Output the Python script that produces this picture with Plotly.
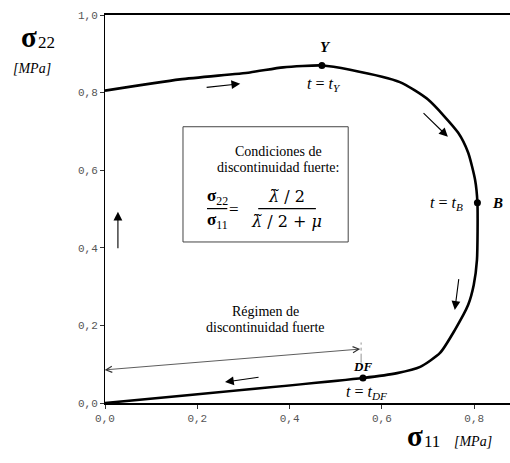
import plotly.graph_objects as go

# Stress path in the (sigma11, sigma22) plane, MPa
s11 = [0.0, 0.1625, 0.314, 0.386, 0.470, 0.531, 0.639, 0.700, 0.765, 0.787,
       0.802, 0.807, 0.806, 0.799, 0.787, 0.758, 0.726, 0.683, 0.633, 0.559, 0.0]
s22 = [0.805, 0.834, 0.852, 0.865, 0.870, 0.859, 0.827, 0.782, 0.697, 0.645,
       0.575, 0.516, 0.369, 0.304, 0.253, 0.188, 0.129, 0.093, 0.077, 0.0645, 0.0]

# Characteristic states: yield (Y), bifurcation (B), strong discontinuity (DF)
pt_names = ["Y", "B", "DF"]
pt_s11 = [0.470, 0.807, 0.559]
pt_s22 = [0.870, 0.516, 0.0645]

tick_vals = [0.0, 0.2, 0.4, 0.6, 0.8, 1.0]
tick_text = ["0,0", "0,2", "0,4", "0,6", "0,8", "1,0"]

SERIF = "Liberation Serif"
MONO = "Liberation Mono"

fig = go.Figure()
fig.add_trace(go.Scatter(x=s11, y=s22, mode="lines",
                         line=dict(color="black", width=2.6, shape="spline", smoothing=0.6),
                         hoverinfo="skip", showlegend=False))
fig.add_trace(go.Scatter(x=pt_s11, y=pt_s22, mode="markers",
                         marker=dict(color="black", size=7),
                         text=pt_names, hoverinfo="text", showlegend=False))

ann = []


def txt(x, y, s, size=14, ref="x", family=SERIF, xanchor="center", yanchor="middle"):
    ann.append(dict(x=x, y=y, xref="x" if ref == "x" else "paper",
                    yref="y" if ref == "x" else "paper",
                    xanchor=xanchor, yanchor=yanchor,
                    text=s, showarrow=False, font=dict(family=family, size=size, color="black")))


# axis titles (outside the plotting area, paper coordinates)
txt(-0.187, 0.943, "<b>σ</b>", size=29, ref="paper")
txt(-0.171, 0.930, "22", size=17, ref="paper", xanchor="left")
txt(-0.180, 0.863, "<i>[MPa]</i>", size=14, ref="paper")
txt(0.765, -0.084, "<b>σ</b>", size=29, ref="paper")
txt(0.782, -0.099, "11", size=17, ref="paper", xanchor="left")
txt(0.857, -0.099, "<i>[MPa]</i>", size=14, ref="paper", xanchor="left")

# point labels
txt(0.477, 0.918, "<b><i>Y</i></b>", size=15)
txt(0.474, 0.820, "<i>t</i> = <i>t</i><sub><i>Y</i></sub>", size=16)
txt(0.850, 0.516, "<b><i>B</i></b>", size=15)
txt(0.740, 0.514, "<i>t</i> = <i>t</i><sub><i>B</i></sub>", size=16)
txt(0.559, 0.094, "<b><i>DF</i></b>", size=13)
txt(0.566, 0.026, "<i>t</i> = <i>t</i><sub><i>DF</i></sub>", size=16)

# box with the strong discontinuity condition
txt(0.375, 0.648, "Condiciones de", size=14)
txt(0.375, 0.606, "discontinuidad fuerte:", size=14)
txt(0.243, 0.531, "<b>σ</b><sub>22</sub>", size=17)
txt(0.243, 0.469, "<b>σ</b><sub>11</sub>", size=17)
txt(0.280, 0.500, "=", size=17)
txt(0.394, 0.533, "<i>λ̃</i> / 2", size=16, family="DejaVu Serif")
txt(0.394, 0.469, "<i>λ̃</i> / 2 + <i>μ</i>", size=16, family="DejaVu Serif")

# strong discontinuity regime
txt(0.347, 0.237, "Régimen de", size=14)
txt(0.347, 0.194, "discontinuidad fuerte", size=14)


def arrow(x0, y0, x1, y1):
    ann.append(dict(x=x1, y=y1, ax=x0, ay=y0, xref="x", yref="y", axref="x", ayref="y",
                    text="", showarrow=True, arrowhead=2, arrowsize=1.6, arrowwidth=1.1,
                    arrowcolor="black"))


# direction of loading along the path
arrow(0.217, 0.813, 0.293, 0.823)
arrow(0.687, 0.751, 0.743, 0.686)
arrow(0.767, 0.323, 0.758, 0.240)
arrow(0.336, 0.067, 0.260, 0.054)
arrow(0.028, 0.395, 0.028, 0.493)

# double-headed arrow spanning the regime
ann.append(dict(x=0.553, y=0.139, ax=-0.004, ay=0.085, xref="x", yref="y", axref="x", ayref="y",
                text="", showarrow=True, arrowside="end+start", arrowhead=5, startarrowhead=5,
                arrowsize=1.5, startarrowsize=1.5, arrowwidth=0.8, arrowcolor="#333"))

shapes = [
    dict(type="rect", xref="x", yref="y", x0=0.169, x1=0.527, y0=0.415, y1=0.712,
         line=dict(color="#444", width=1), fillcolor="rgba(0,0,0,0)"),
    dict(type="line", xref="x", yref="y", x0=0.221, x1=0.265, y0=0.501, y1=0.501,
         line=dict(color="black", width=1.2)),
    dict(type="line", xref="x", yref="y", x0=0.332, x1=0.457, y0=0.501, y1=0.501,
         line=dict(color="black", width=1.2)),
    dict(type="line", xref="x", yref="y", x0=-0.004, x1=-0.004, y0=0.052, y1=0.118,
         line=dict(color="#777", width=0.8, dash="dashdot")),
    dict(type="line", xref="x", yref="y", x0=0.555, x1=0.555, y0=0.104, y1=0.156,
         line=dict(color="#777", width=0.8, dash="dashdot")),
]

fig.update_layout(
    width=510, height=463,
    margin=dict(l=105, r=0, t=15, b=60),
    plot_bgcolor="white", paper_bgcolor="white",
    annotations=ann, shapes=shapes,
    xaxis=dict(range=[0, 0.8776], tickvals=tick_vals[:5], ticktext=tick_text[:5],
               showline=True, linecolor="black", linewidth=1.5, mirror=True,
               ticks="outside", ticklen=4, tickcolor="#333", showgrid=False, zeroline=False,
               tickfont=dict(family=MONO, size=11, color="#555")),
    yaxis=dict(range=[0, 1.0], tickvals=tick_vals, ticktext=tick_text,
               showline=True, linecolor="black", linewidth=1,
               ticks="outside", ticklen=4, tickcolor="#333", showgrid=False, zeroline=False,
               tickfont=dict(family=MONO, size=11, color="#555")),
)

fig.write_html("out.html")
